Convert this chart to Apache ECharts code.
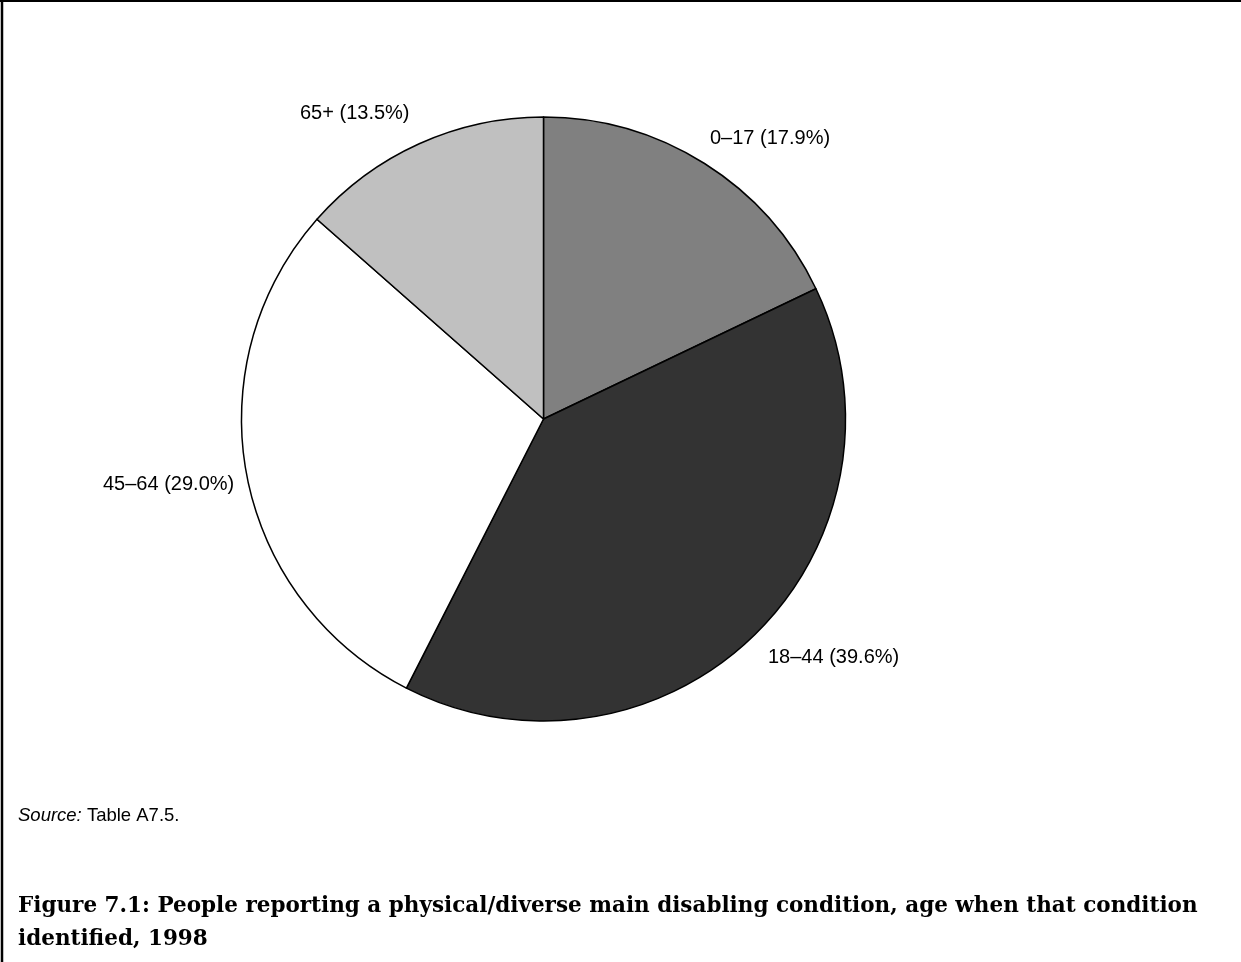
<!DOCTYPE html>
<html>
<head>
<meta charset="utf-8">
<style>
html,body{margin:0;padding:0;background:#fff;}
#chart{width:1241px;height:962px;}
</style>
<script src="https://cdn.jsdelivr.net/npm/echarts@6/dist/echarts.min.js"></script>
</head>
<body>
<div id="chart"></div>
<script>
const categories = ['0–17', '18–44', '45–64', '65+'];
const shares = [17.9, 39.6, 29.0, 13.5];
const sliceColors = ['#808080', '#333333', '#ffffff', '#c0c0c0'];
const labelSpots = [
  {x: 710, y: 138},
  {x: 768, y: 657},
  {x: 103, y: 484},
  {x: 300, y: 113}
];
const titleLines = ['Figure 7.1: People reporting a physical/diverse main disabling condition, age when that condition', 'identified, 1998'];

const chart = echarts.init(document.getElementById('chart'), null, {renderer: 'canvas'});
chart.setOption({
  backgroundColor: '#ffffff',
  animation: false,
  series: [{
    type: 'pie',
    center: [543.5, 419],
    radius: 302,
    startAngle: 90,
    clockwise: true,
    silent: true,
    data: categories.map((c, i) => ({
      name: c,
      value: shares[i],
      itemStyle: {color: sliceColors[i]}
    })),
    itemStyle: {borderColor: '#000', borderWidth: 1.5},
    label: {
      show: true,
      position: 'outside',
      formatter: p => p.name + ' (' + shares[p.dataIndex].toFixed(1) + '%)',
      fontFamily: 'Liberation Sans, Arial, sans-serif',
      fontSize: 20,
      color: '#000'
    },
    labelLine: {show: false},
    labelLayout: p => ({x: labelSpots[p.dataIndex].x, y: labelSpots[p.dataIndex].y, align: 'left', verticalAlign: 'middle'})
  }],
  graphic: [
    {type: 'line', shape: {x1: 0, y1: 1, x2: 1241, y2: 1}, style: {stroke: '#000', lineWidth: 2}},
    {type: 'line', shape: {x1: 2, y1: 0, x2: 2, y2: 962}, style: {stroke: '#000', lineWidth: 2.5}},
    {type: 'text', left: 18, top: 806, style: {
      text: '{i|Source:} Table A7.5.',
      rich: {i: {fontStyle: 'italic', fontFamily: 'Liberation Sans, Arial, sans-serif', fontSize: 18.5, fill: '#000'}},
      fontFamily: 'Liberation Sans, Arial, sans-serif', fontSize: 18.5, fill: '#000'
    }},
    {type: 'text', left: 18, top: 895, style: {
      text: titleLines[0], fontFamily: 'DejaVu Serif', fontWeight: 'bold', fontSize: 21.5, fill: '#000'
    }},
    {type: 'text', left: 18, top: 928, style: {
      text: titleLines[1], fontFamily: 'DejaVu Serif', fontWeight: 'bold', fontSize: 21.5, fill: '#000'
    }}
  ]
});
</script>
</body>
</html>
